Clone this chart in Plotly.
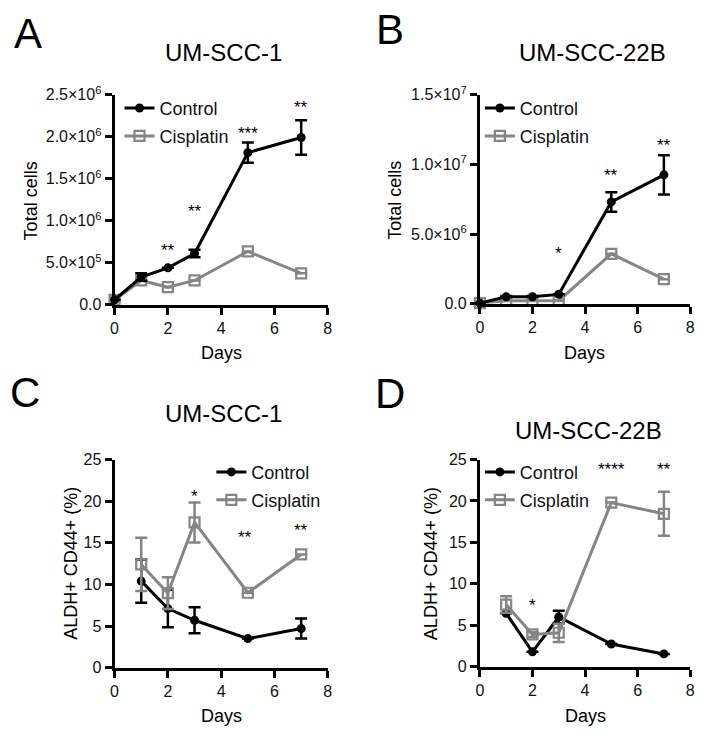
import plotly.graph_objects as go

W, H = 708, 739

# ---------------- data ----------------
days_cells = [0, 1, 2, 3, 5, 7]
days_aldh = [1, 2, 3, 5, 7]

# Panel A: UM-SCC-1 total cells
a_ctrl = [0.06e6, 0.33e6, 0.44e6, 0.61e6, 1.81e6, 1.99e6]
a_ctrl_err = [0.0, 0.045e6, 0.0, 0.045e6, 0.12e6, 0.205e6]
a_cis = [0.06e6, 0.29e6, 0.21e6, 0.29e6, 0.635e6, 0.375e6]
a_cis_err = [0, 0, 0, 0, 0, 0]
a_stars = ["**", "**", "***", "**"]
a_star_x = [2, 3, 5, 7]
a_star_y = [0.68e6, 1.15e6, 2.07e6, 2.38e6]

# Panel B: UM-SCC-22B total cells
b_ctrl = [0.05e6, 0.51e6, 0.51e6, 0.68e6, 7.31e6, 9.25e6]
b_ctrl_err = [0, 0, 0, 0, 0.7e6, 1.4e6]
b_cis = [0.05e6, 0.23e6, 0.23e6, 0.23e6, 3.59e6, 1.77e6]
b_cis_err = [0, 0, 0, 0, 0, 0]
b_stars = ["*", "**", "**"]
b_star_x = [3, 5, 7]
b_star_y = [3.85e6, 9.45e6, 11.6e6]

# Panel C: UM-SCC-1 ALDH+ CD44+ (%)
c_ctrl = [10.4, 7.1, 5.7, 3.5, 4.7]
c_ctrl_err = [2.6, 2.25, 1.55, 0.0, 1.2]
c_cis = [12.4, 8.95, 17.45, 9.0, 13.6]
c_cis_err = [3.2, 1.9, 2.4, 0.0, 0.0]
c_stars = ["*", "**", "**"]
c_star_x = [3, 4.9, 7]
c_star_y = [20.9, 16.0, 16.8]

# Panel D: UM-SCC-22B ALDH+ CD44+ (%)
d_ctrl = [6.45, 1.8, 6.0, 2.75, 1.55]
d_ctrl_err = [0, 0, 0.75, 0, 0]
d_cis = [7.5, 3.9, 4.1, 19.8, 18.45]
d_cis_err = [1.0, 0.3, 1.1, 0, 2.65]
d_stars = ["*", "****", "**"]
d_star_x = [2, 5, 7]
d_star_y = [7.8, 24.1, 24.1]

cells_a_vals = [0, 5e5, 1e6, 1.5e6, 2e6, 2.5e6]
cells_a_text = ["0.0", "5.0×10<sup>5</sup>", "1.0×10<sup>6</sup>",
                "1.5×10<sup>6</sup>", "2.0×10<sup>6</sup>", "2.5×10<sup>6</sup>"]
cells_b_vals = [0, 5e6, 1e7, 1.5e7]
cells_b_text = ["0.0", "5.0×10<sup>6</sup>", "1.0×10<sup>7</sup>", "1.5×10<sup>7</sup>"]
aldh_vals = [0, 5, 10, 15, 20, 25]
x_vals = [0, 2, 4, 6, 8]

# ---------------- style ----------------
FONT = "Liberation Sans, Arial, Helvetica, sans-serif"
BLACK = "#000000"
GREY = "#858585"


def px_x(x):
    return x / W


def px_y(y):
    return 1 - y / H


fig = go.Figure()

panels = [
    ("", days_cells, a_ctrl, a_ctrl_err, a_cis, a_cis_err, "legend", True),
    ("2", days_cells, b_ctrl, b_ctrl_err, b_cis, b_cis_err, "legend2", True),
    ("3", days_aldh, c_ctrl, c_ctrl_err, c_cis, c_cis_err, "legend3", False),
    ("4", days_aldh, d_ctrl, d_ctrl_err, d_cis, d_cis_err, "legend4", False),
]

for suf, xs, ctrl, ctrl_err, cis, cis_err, leg, ctrl_top in panels:
    tr_ctrl = go.Scatter(
        x=xs, y=ctrl, name="Control", mode="lines+markers",
        xaxis="x" + suf, yaxis="y" + suf, legend=leg, legendrank=1,
        legendgroup="ctrl" + suf,
        line=dict(color=BLACK, width=3),
        marker=dict(symbol="circle", size=9, color=BLACK),
        error_y=dict(type="data", array=ctrl_err, visible=True,
                     color=BLACK, thickness=2.5, width=6),
        cliponaxis=False,
    )
    tr_cis = go.Scatter(
        x=xs, y=cis, name="Cisplatin", mode="lines+markers",
        xaxis="x" + suf, yaxis="y" + suf, legend=leg, legendrank=2,
        legendgroup="cis" + suf,
        line=dict(color=GREY, width=3),
        marker=dict(symbol="square-open", size=10, color=GREY,
                    line=dict(width=2.2, color=GREY)),
        error_y=dict(type="data", array=cis_err, visible=True,
                     color=GREY, thickness=2.5, width=6),
        cliponaxis=False,
    )
    if ctrl_top:
        fig.add_trace(tr_cis)
        fig.add_trace(tr_ctrl)
    else:
        fig.add_trace(tr_ctrl)
        fig.add_trace(tr_cis)

# domains in pixels
dom = {
    "": (112, 328, 86, 302),
    "2": (482, 695, 86, 301),
    "3": (112, 328, 461, 675),
    "4": (482, 695, 461, 674),
}

axis_common = dict(
    showline=True, linecolor=BLACK, linewidth=3,
    ticks="outside", ticklen=7, tickwidth=3, tickcolor=BLACK,
    showgrid=False, zeroline=False,
    tickfont=dict(family=FONT, size=16, color="#111111"),
    fixedrange=True,
)

layout_axes = {}
yinfo = {
    "": ([0, 2.5e6], cells_a_vals, cells_a_text),
    "2": ([0, 1.5e7], cells_b_vals, cells_b_text),
    "3": ([0, 25], aldh_vals, [str(v) for v in aldh_vals]),
    "4": ([0, 25], aldh_vals, [str(v) for v in aldh_vals]),
}
for suf, (x0, x1, y0, y1) in dom.items():
    xa = dict(axis_common)
    xa.update(domain=[px_x(x0), px_x(x1)], range=[0, 8],
              tickvals=x_vals, ticktext=[str(v) for v in x_vals],
              anchor="y" + suf)
    rng, tv, tt = yinfo[suf]
    ya = dict(axis_common)
    ya.update(domain=[px_y(y1), px_y(y0)], range=rng,
              tickvals=tv, ticktext=tt, anchor="x" + suf)
    layout_axes["xaxis" + suf] = xa
    layout_axes["yaxis" + suf] = ya

fig.update_layout(**layout_axes)

# legends
leg_pos = {
    "legend": (117, 81),
    "legend2": (482, 81),
    "legend3": (210, 455),
    "legend4": (482, 455),
}
for name, (lx, ly) in leg_pos.items():
    fig.update_layout({name: dict(
        x=px_x(lx), y=px_y(ly), xanchor="left", yanchor="top",
        bgcolor="rgba(0,0,0,0)", borderwidth=0,
        font=dict(family=FONT, size=18, color="#111111"),
        itemwidth=30, tracegroupgap=1.5,
    )})

ann = []
for suf, sx, sy, st in [("", a_star_x, a_star_y, a_stars),
                        ("2", b_star_x, b_star_y, b_stars),
                        ("3", c_star_x, c_star_y, c_stars),
                        ("4", d_star_x, d_star_y, d_stars)]:
    for x, y, s in zip(sx, sy, st):
        ann.append(dict(x=x, y=y, xref="x" + suf, yref="y" + suf, text=s,
                        showarrow=False, yshift=-3,
                        font=dict(family=FONT, size=17, color=BLACK)))

texts = [
    ("UM-SCC-1", 222, 43, 24, 0),
    ("UM-SCC-22B", 596, 43, 24, 0),
    ("UM-SCC-1", 222, 414, 24, 0),
    ("UM-SCC-22B", 592, 431, 24, 0),
    ("A", 24, 23, 42, 0),
    ("B", 391, 19, 42, 0),
    ("C", 21, 392, 42, 0),
    ("D", 391, 393, 42, 0),
    ("Total cells", 27, 195, 18, -90),
    ("Total cells", 396, 194, 18, -90),
    ("ALDH+ CD44+ (%)", 67, 568, 18, -90),
    ("ALDH+ CD44+ (%)", 432, 568, 18, -90),
    ("Days", 220, 352, 18, 0),
    ("Days", 588, 352, 18, 0),
    ("Days", 220, 725, 18, 0),
    ("Days", 589, 725, 18, 0),
]
for t, x, y, s, ang in texts:
    ann.append(dict(x=px_x(x), y=px_y(y), xref="paper", yref="paper",
                    text=t, showarrow=False, textangle=ang,
                    xanchor="center", yanchor="middle",
                    font=dict(family=FONT, size=s, color=BLACK)))

fig.update_layout(
    width=W, height=H,
    margin=dict(l=0, r=0, t=0, b=0),
    paper_bgcolor="white", plot_bgcolor="white",
    annotations=ann,
    font=dict(family=FONT, color=BLACK),
    showlegend=True,
)

fig.write_html(
    "out.html",
    config={"displayModeBar": False},
    post_script="document.body.style.margin='0px';document.body.style.overflow='hidden';",
)
